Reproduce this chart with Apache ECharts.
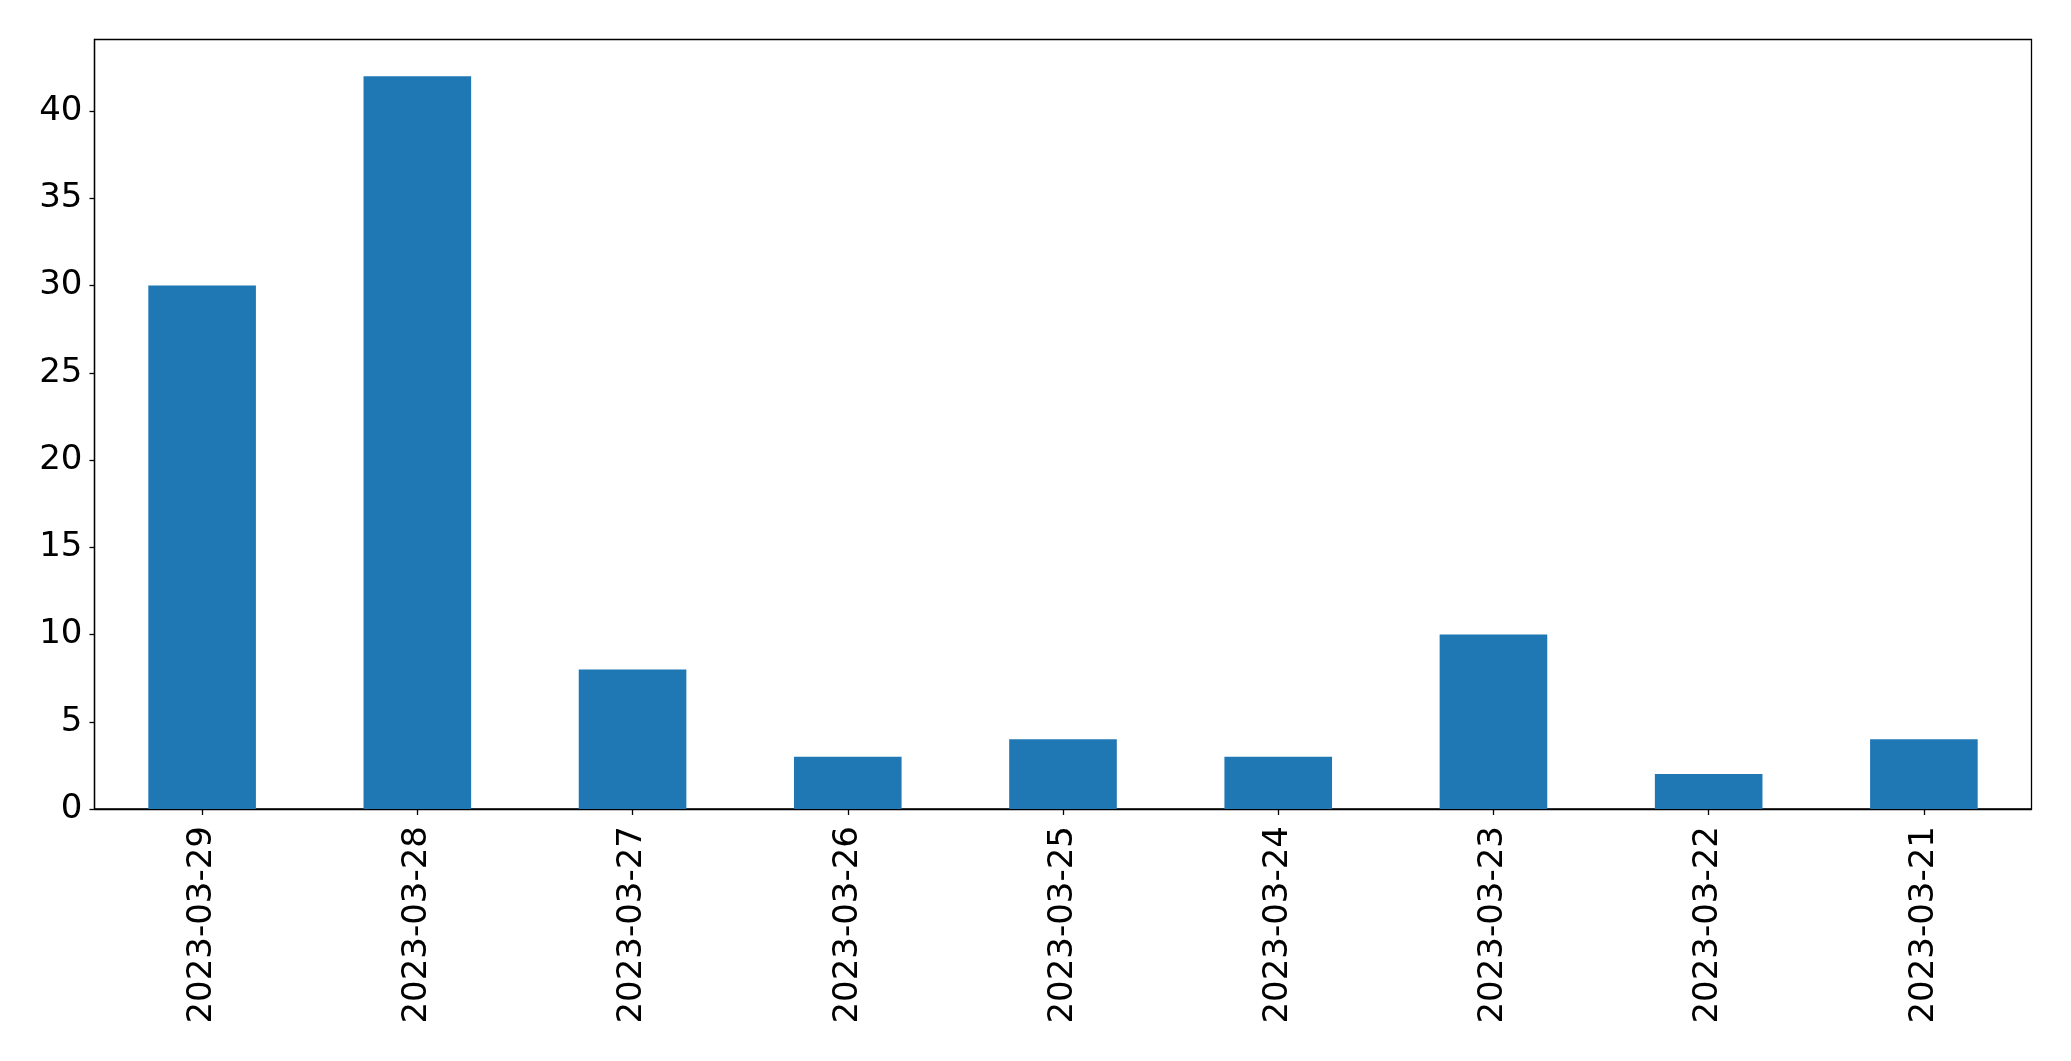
<!DOCTYPE html>
<html>
<head>
<meta charset="utf-8">
<script src="https://cdn.jsdelivr.net/npm/echarts@6/dist/echarts.min.js"></script>
<style>
html,body{margin:0;padding:0;background:#fff;}
#c{width:2071px;height:1061px;}
</style>
</head>
<body>
<div id="c"></div>
<script>
const categories = ['2023-03-29','2023-03-28','2023-03-27','2023-03-26','2023-03-25','2023-03-24','2023-03-23','2023-03-22','2023-03-21'];
const values = [30, 42, 8, 3, 4, 3, 10, 2, 4];
const yTicks = [0, 5, 10, 15, 20, 25, 30, 35, 40];

const chart = echarts.init(document.getElementById('c'), null, {renderer: 'canvas'});
const font = 'DejaVu Sans';
chart.setOption({
  animation: false,
  backgroundColor: '#ffffff',
  grid: {
    left: 94.5, right: 39.5, top: 39.5, bottom: 252,
    containLabel: false,
    outerBoundsMode: 'none',
    show: true, borderColor: '#000', borderWidth: 1.3, backgroundColor: 'transparent'
  },
  xAxis: {
    type: 'category',
    data: categories,
    axisLine: {show: true, lineStyle: {color: '#000', width: 1.3}},
    axisTick: {show: true, alignWithLabel: true, length: 6, lineStyle: {color: '#000', width: 1.3}},
    axisLabel: {rotate: 90, margin: 17, color: '#000', fontFamily: font, fontSize: 34},
    splitLine: {show: false}
  },
  yAxis: {
    type: 'value',
    min: 0, max: 44.1,
    axisLine: {show: true, lineStyle: {color: '#000', width: 1.3}},
    axisTick: {show: true, length: 5, customValues: yTicks, lineStyle: {color: '#000', width: 1.3}},
    axisLabel: {customValues: yTicks, margin: 12, color: '#000', fontFamily: font, fontSize: 34},
    splitLine: {show: false}
  },
  series: [{
    type: 'bar',
    data: values,
    barCategoryGap: '50%',
    itemStyle: {color: '#1f77b4'}
  }]
});
</script>
</body>
</html>
